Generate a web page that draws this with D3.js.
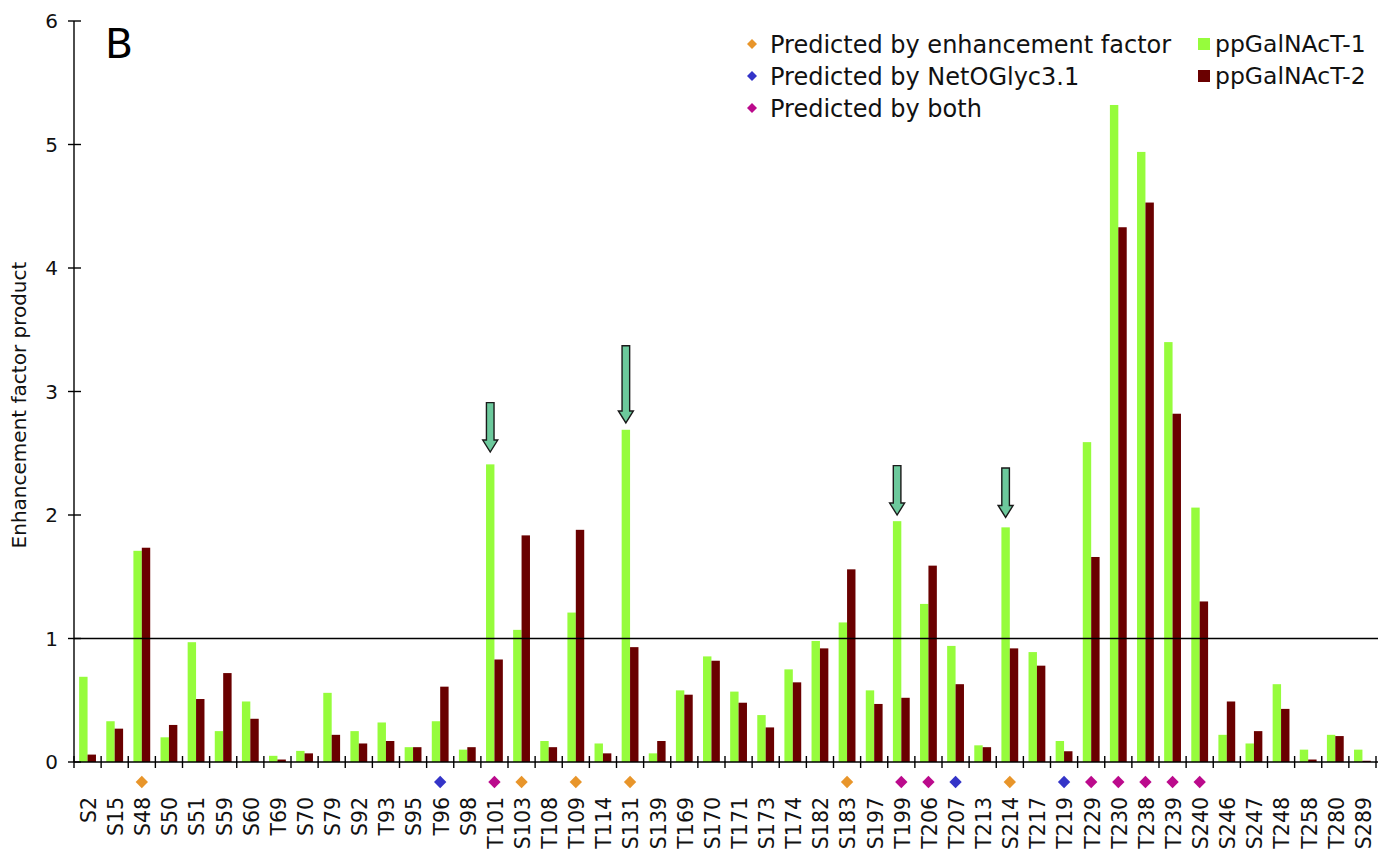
<!DOCTYPE html>
<html>
<head>
<meta charset="utf-8">
<script src="https://cdn.jsdelivr.net/npm/d3@7"></script>
<style>
  html, body { margin: 0; padding: 0; background: #fff; }
  svg { display: block; font-family: "DejaVu Sans", Verdana, sans-serif; }
</style>
</head>
<body>
<svg id="chart" width="1382" height="850"></svg>
<script>
// Glycosylation sites along the sequence
const sites = ["S2","S15","S48","S50","S51","S59","S60","T69","S70","S79","S92","T93","S95","T96","S98",
  "T101","S103","T108","T109","T114","S131","S139","T169","S170","T171","S173","T174","S182","S183","S197",
  "T199","T206","T207","T213","S214","T217","T219","T229","T230","T238","T239","S240","S246","S247","T248",
  "T258","T280","S289"];

// Enhancement factor product per site, one array per transferase
const galnact1 = [0.69,0.33,1.71,0.20,0.97,0.25,0.49,0.05,0.09,0.56,0.25,0.32,0.12,0.33,0.10,
  2.41,1.07,0.17,1.21,0.15,2.69,0.07,0.58,0.855,0.57,0.38,0.75,0.98,1.13,0.58,
  1.95,1.28,0.94,0.135,1.90,0.89,0.17,2.59,5.32,4.94,3.40,2.06,0.22,0.15,0.63,
  0.10,0.22,0.10];
const galnact2 = [0.06,0.27,1.735,0.30,0.51,0.72,0.35,0.02,0.07,0.22,0.15,0.17,0.12,0.61,0.12,
  0.83,1.835,0.12,1.88,0.07,0.93,0.17,0.545,0.82,0.48,0.28,0.645,0.92,1.56,0.47,
  0.52,1.59,0.63,0.12,0.92,0.78,0.087,1.66,4.33,4.53,2.82,1.30,0.49,0.25,0.43,
  0.02,0.21,0.01];

const seriesNames = ["ppGalNAcT-1", "ppGalNAcT-2"];

// Sites flagged by each prediction method
const predictedByEnhancement = ["S48","S103","T109","S131","S183","S214"];
const predictedByNetOGlyc = ["T96","T207","T219"];
const predictedByBoth = ["T101","T199","T206","T229","T230","T238","T239","S240"];
const predictionLabels = ["Predicted by enhancement factor","Predicted by NetOGlyc3.1","Predicted by both"];

// Highlight arrows: site, value at the arrow tail, value at the arrow tip
const arrowSites = ["T101","S131","T199","S214"];
const arrowTail = [2.91, 3.37, 2.40, 2.38];
const arrowTip = [2.51, 2.745, 2.00, 1.98];

const yTicks = [0,1,2,3,4,5,6];
const threshold = 1;

const colors = {
  "ppGalNAcT-1": "#96fc3c",
  "ppGalNAcT-2": "#6a0000",
  enh: "#e8952a",
  net: "#3434c8",
  both: "#bb0a8c",
  arrow: "#6cc99c"
};

const svg = d3.select("#chart");

const x0 = 74, x1 = 1376, yBase = 762, yTop = 21;

const x = d3.scaleBand().domain(sites).range([x0, x1]).padding(0);
const xs = d3.scaleBand().domain(seriesNames)
  .range([x.bandwidth() * 0.19, x.bandwidth() * 0.81]).padding(0);
const y = d3.scaleLinear().domain([0, 6]).range([yBase, yTop]);

// Bars
const rows = sites.map((s, i) => ({ site: s, values: [galnact1[i], galnact2[i]] }));
const groups = svg.append("g").selectAll("g").data(rows).join("g")
  .attr("transform", d => `translate(${x(d.site)},0)`);
groups.selectAll("rect")
  .data(d => d.values.map((v, k) => ({ key: seriesNames[k], value: v })))
  .join("rect")
  .attr("x", d => xs(d.key))
  .attr("width", xs.bandwidth())
  .attr("y", d => y(d.value))
  .attr("height", d => yBase - y(d.value))
  .attr("fill", d => colors[d.key]);

// Threshold line at 1
svg.append("line")
  .attr("x1", x0).attr("x2", x1 + 2)
  .attr("y1", y(threshold)).attr("y2", y(threshold))
  .attr("stroke", "#000").attr("stroke-width", 1.3);

// Y axis with ticks crossing the axis line
const yAxis = svg.append("g");
yAxis.append("line")
  .attr("x1", x0).attr("x2", x0).attr("y1", y(6)).attr("y2", yBase)
  .attr("stroke", "#000").attr("stroke-width", 1.4);
yAxis.selectAll("line.tick").data(yTicks).join("line")
  .attr("class", "tick")
  .attr("x1", x0 - 6).attr("x2", x0 + 7)
  .attr("y1", d => y(d)).attr("y2", d => y(d))
  .attr("stroke", "#000").attr("stroke-width", 1.4);
yAxis.selectAll("text").data(yTicks).join("text")
  .attr("x", x0 - 16).attr("y", d => y(d))
  .attr("dy", "0.36em")
  .attr("text-anchor", "end")
  .attr("font-size", 20)
  .attr("fill", "#111")
  .text(d => d);

svg.append("text")
  .attr("transform", `translate(26,405) rotate(-90)`)
  .attr("text-anchor", "middle")
  .attr("font-size", 20)
  .attr("fill", "#111")
  .text("Enhancement factor product");

// X axis with ticks at band boundaries
const xAxis = svg.append("g");
xAxis.append("line")
  .attr("x1", x0).attr("x2", x1 + 2).attr("y1", yBase).attr("y2", yBase)
  .attr("stroke", "#000").attr("stroke-width", 1.4);
const boundaries = sites.map(s => x(s)).concat([x1]);
xAxis.selectAll("line.tick").data(boundaries).join("line")
  .attr("class", "tick")
  .attr("x1", d => d).attr("x2", d => d)
  .attr("y1", yBase - 6).attr("y2", yBase + 6)
  .attr("stroke", "#000").attr("stroke-width", 1.4);
xAxis.selectAll("text").data(sites).join("text")
  .attr("transform", d => `translate(${x(d) + x.bandwidth() / 2 + 1},797) rotate(-90)`)
  .attr("dy", "0.36em")
  .attr("text-anchor", "end")
  .attr("font-size", 20.5)
  .attr("fill", "#111")
  .text(d => d);

// Prediction markers under the axis
const diamond = d3.symbol().type(d3.symbolSquare).size(76);
const markers = []
  .concat(predictedByEnhancement.map(s => ({ site: s, c: colors.enh })))
  .concat(predictedByNetOGlyc.map(s => ({ site: s, c: colors.net })))
  .concat(predictedByBoth.map(s => ({ site: s, c: colors.both })));
svg.append("g").selectAll("path").data(markers).join("path")
  .attr("d", diamond)
  .attr("transform", d => `translate(${x(d.site) + x.bandwidth() / 2},782) rotate(45)`)
  .attr("fill", d => d.c);

// Arrows pointing at selected sites
const arrowData = arrowSites.map((s, i) => ({ site: s, tail: arrowTail[i], tip: arrowTip[i] }));
svg.append("g").selectAll("path").data(arrowData).join("path")
  .attr("d", d => {
    const cx = x(d.site) + xs("ppGalNAcT-1") + xs.bandwidth() / 2;
    const t = y(d.tail), p = y(d.tip);
    const hw = 3.8, hh = 12, aw = 7.5;
    return `M${cx - hw},${t} L${cx + hw},${t} L${cx + hw},${p - hh} L${cx + aw},${p - hh} ` +
      `L${cx},${p} L${cx - aw},${p - hh} L${cx - hw},${p - hh} Z`;
  })
  .attr("fill", colors.arrow)
  .attr("stroke", "#1a1a1a")
  .attr("stroke-width", 1.4)
  .attr("stroke-linejoin", "miter");

// Panel letter
svg.append("text")
  .attr("x", 105).attr("y", 58)
  .attr("font-size", 41)
  .attr("fill", "#000")
  .text("B");

// Legend: prediction methods
const predColors = [colors.enh, colors.net, colors.both];
const legL = svg.append("g");
predictionLabels.forEach((lab, i) => {
  const cy = 44 + i * 32;
  legL.append("path")
    .attr("d", d3.symbol().type(d3.symbolSquare).size(50))
    .attr("transform", `translate(752,${cy}) rotate(45)`)
    .attr("fill", predColors[i]);
  legL.append("text")
    .attr("x", 770).attr("y", cy)
    .attr("dy", "0.36em")
    .attr("font-size", 24)
    .attr("fill", "#111")
    .text(lab);
});

// Legend: transferases
const legR = svg.append("g");
seriesNames.forEach((name, i) => {
  const cy = 44 + i * 32;
  legR.append("rect")
    .attr("x", 1198).attr("y", cy - 6).attr("width", 12).attr("height", 12)
    .attr("fill", colors[name]);
  legR.append("text")
    .attr("x", 1215).attr("y", cy)
    .attr("dy", "0.36em")
    .attr("font-size", 23.5)
    .attr("fill", "#111")
    .text(name);
});
</script>
</body>
</html>
